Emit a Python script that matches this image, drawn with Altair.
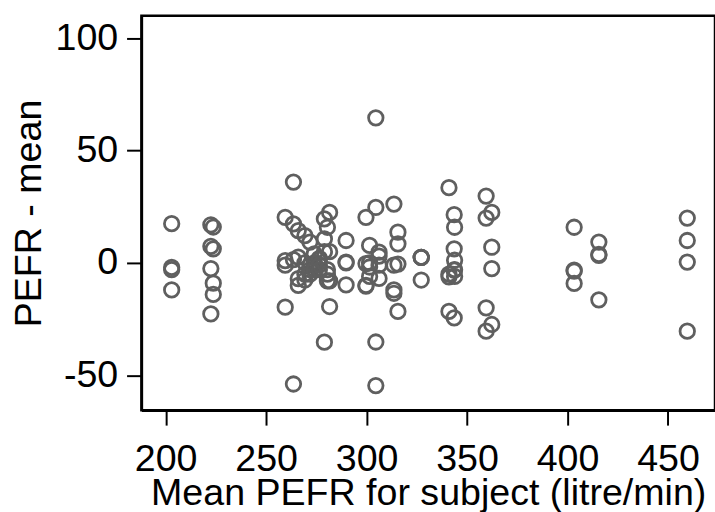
import altair as alt
import pandas as pd

# Subject mean PEFR (litre/min), one entry per subject
subject_mean = [203, 222.5, 223.7, 259.5, 263.6, 266, 269.3, 271.8, 274, 276.5,
                279, 280.5, 281.6, 289.8, 299.7, 301.5, 304.6, 306.2, 313.6, 315.6,
                327.2, 341, 343.6, 343.8, 359.5, 362.3, 403.3, 415.6, 459.6]

# Four deviations (PEFR - subject mean) per subject, in the same order
deviations = [
    [17.5, -2, -3, -12],
    [17, 7.4, -2.5, -22.7],
    [16, 6.3, -9, -14],
    [20.3, 1, -1, -19.7],
    [36, 17.4, 1.5, -53.9],
    [14.4, 2.6, -7, -10],
    [12.2, 0, -5, -7.6],
    [9.3, -1, -3, -5],
    [4, 0, -1, -3],
    [2, 1.5, -1, -3],
    [19.6, 10.7, 5, -35.3],
    [15.9, -3, -5, -8],
    [22.5, 5, -8, -19.4],
    [10, 0.4, 0, -9.8],
    [20.3, -0.3, -10, -10.3],
    [7.8, 0, -1.8, -6],
    [64.6, 24.7, -35.2, -54.6],
    [4.8, 3, -1, -6.9],
    [26.2, -1, -12, -13.5],
    [13.7, 8.5, -0.5, -21.6],
    [2.5, 2.5, 2.5, -7.6],
    [33.5, -5, -6.2, -21.6],
    [21.5, 6.3, -3.2, -24.5],
    [15.9, 1.2, -3, -6],
    [29.8, 20, -20, -30.4],
    [22.5, 7, -2.5, -27.4],
    [15.9, -3.2, -3.6, -9.1],
    [9.3, 3.8, 3.4, -16.4],
    [20, 10, 0.4, -30.4],
]

x_ticks = [200, 250, 300, 350, 400, 450]
y_ticks = [-50, 0, 50, 100]

x_vals = [m for m, devs in zip(subject_mean, deviations) for _ in devs]
y_vals = [d for devs in deviations for d in devs]
df = pd.DataFrame({"mean_pefr": x_vals, "diff": y_vals})

FONT = "Liberation Sans"
FS = 38

chart = alt.Chart(df).mark_point(
    shape="circle", filled=False, size=215, strokeWidth=2.8, color="#5f5f5f", opacity=1
).encode(
    x=alt.X("mean_pefr:Q",
            scale=alt.Scale(domain=[187.94, 473.4], nice=False, zero=False),
            axis=alt.Axis(title="Mean PEFR for subject (litre/min)",
                          values=x_ticks, labelExpr="'' + datum.value",
                          labelPadding=16, titlePadding=-4)),
    y=alt.Y("diff:Q",
            scale=alt.Scale(domain=[-65.6, 110.1], nice=False, zero=False),
            axis=alt.Axis(title="PEFR - mean",
                          values=y_ticks, labelExpr="'' + datum.value",
                          labelPadding=9, titlePadding=7)),
).properties(
    width=580, height=399,
    background="white",
    autosize=alt.AutoSizeParams(type="none"),
    padding={"left": 143, "top": 13, "right": 0, "bottom": 100},
).configure_view(
    stroke="black", strokeWidth=2.5
).configure_axis(
    grid=False, domainColor="black", domainWidth=2.5,
    tickColor="black", tickWidth=2, tickSize=15,
    labelFont=FONT, labelFontSize=FS, labelColor="black",
    titleFont=FONT, titleFontSize=FS, titleColor="black", titleFontWeight="normal",
    labelFlush=False, labelOverlap=False,
)

chart.save("out.html", embed_options={"renderer": "svg", "actions": False})
